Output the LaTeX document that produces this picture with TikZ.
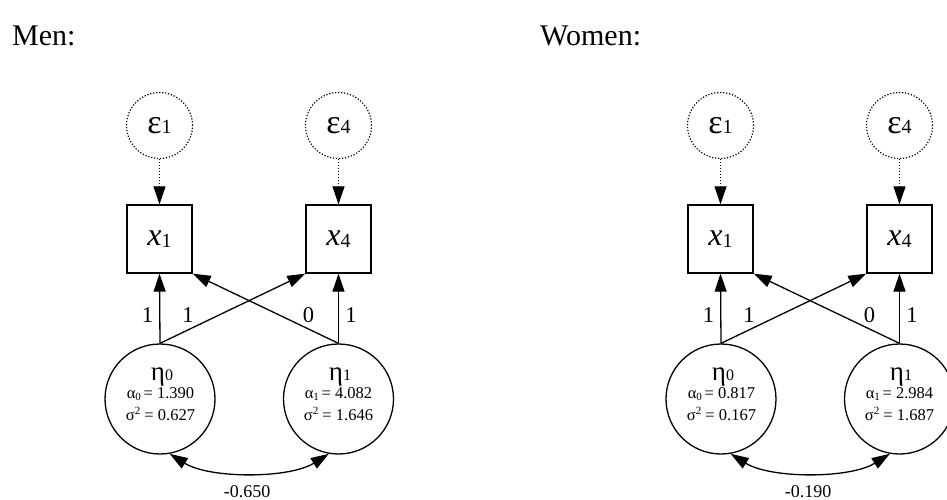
\documentclass[tikz,border=0pt]{standalone}
\usepackage{fontspec}
\setmainfont{Liberation Serif}
\usetikzlibrary{arrows.meta}

\newcommand\fs[1]{\fontsize{#1}{#1}\selectfont}
\newcommand\epstxt[1]{{\fs{34}ε\fs{20}#1}}
\newcommand\obstxt[1]{{\fs{32}\itshape x\upshape\fs{20}\raisebox{-2pt}{#1}}}
\newcommand\etatxt[1]{{\fs{27}η\fs{16}#1}}
\newcommand\alphatxt[2]{{\fs{16.5}α\raisebox{-2pt}{\fs{11}#1}\,= #2}}
\newcommand\sigmatxt[1]{{\fs{16.5}σ\raisebox{6pt}{\fs{11}2} = #1}}

\tikzset{
  obsbox/.style={draw, line width=1.3pt, minimum width=65pt, minimum height=68pt, inner sep=0pt},
  errcirc/.style={draw, circle, line width=1.2pt, dash pattern=on 1.2pt off 1.8pt, minimum size=66pt, inner sep=0pt},
  latcirc/.style={draw, circle, line width=1.3pt, minimum size=110pt, inner sep=0pt},
  solidarr/.style={line width=1.3pt, -{Triangle[length=18pt,width=12pt]}},
  dotarr/.style={line width=1.2pt, dash pattern=on 1.2pt off 1.8pt, -{Triangle[length=18pt,width=12pt]}},
  covarr/.style={line width=1.3pt, {Triangle[length=18pt,width=12pt]}-{Triangle[length=18pt,width=12pt]}},
  lbl/.style={font=\fs{22.5}, anchor=base, inner sep=0pt},
  txt/.style={anchor=base, inner sep=0pt},
  head/.style={font=\fs{30}, anchor=base west, inner sep=0pt}
}

\begin{document}
\begin{tikzpicture}[x=1pt,y=1pt]
\useasboundingbox (0,0) rectangle (947,-500);

\node[head] (men) at (12,-46) {Men:};
\node[head] (women) at (540,-46) {Women:};

\foreach \off/\p/\aa/\sa/\ab/\sb/\cv in {0/m/1.390/0.627/4.082/1.646/-0.650, 561/w/0.817/0.167/2.984/1.687/-0.190}{
  \begin{scope}[xshift=\off]
    \node[errcirc] (\p e1) at (159.5,-125.5) {\epstxt{1}};
    \node[errcirc] (\p e4) at (338.5,-125.5) {\epstxt{4}};
    \node[obsbox] (\p x1) at (159.5,-239) {\obstxt{1}};
    \node[obsbox] (\p x4) at (338.5,-239) {\obstxt{4}};
    \node[latcirc] (\p eta0) at (160,-399) {};
    \node[latcirc] (\p eta1) at (338.5,-399) {};

    \node[txt] (\p t0a) at (162,-380) {\etatxt{0}};
    \node[txt] (\p t0b) at (160.5,-398.5) {\alphatxt{0}{\aa}};
    \node[txt] (\p t0c) at (160.5,-420.5) {\sigmatxt{\sa}};
    \node[txt] (\p t1a) at (340,-380) {\etatxt{1}};
    \node[txt] (\p t1b) at (338.5,-398.5) {\alphatxt{1}{\ab}};
    \node[txt] (\p t1c) at (338.5,-420.5) {\sigmatxt{\sb}};

    \draw[dotarr] (\p e1) -- (\p x1);
    \draw[dotarr] (\p e4) -- (\p x4);
    \draw[solidarr] (\p eta0.north) -- (\p x1.south);
    \draw[solidarr] (\p eta0.north) -- (\p x4.south west);
    \draw[solidarr] (\p eta1.north) -- (\p x1.south east);
    \draw[solidarr] (\p eta1.north) -- (\p x4.south);

    \node[lbl] (\p l1) at (147.5,-322) {1};
    \node[lbl] (\p l2) at (188,-322) {1};
    \node[lbl] (\p l3) at (308.5,-322) {0};
    \node[lbl] (\p l4) at (351,-322) {1};

    \draw[covarr] (\p eta0.-80) .. controls +(40,-25) and +(-40,-25) .. (\p eta1.-100);
    \node[txt, font=\fs{18}] (\p cv) at (247,-497) {\cv};
  \end{scope}
}
\end{tikzpicture}
\end{document}
